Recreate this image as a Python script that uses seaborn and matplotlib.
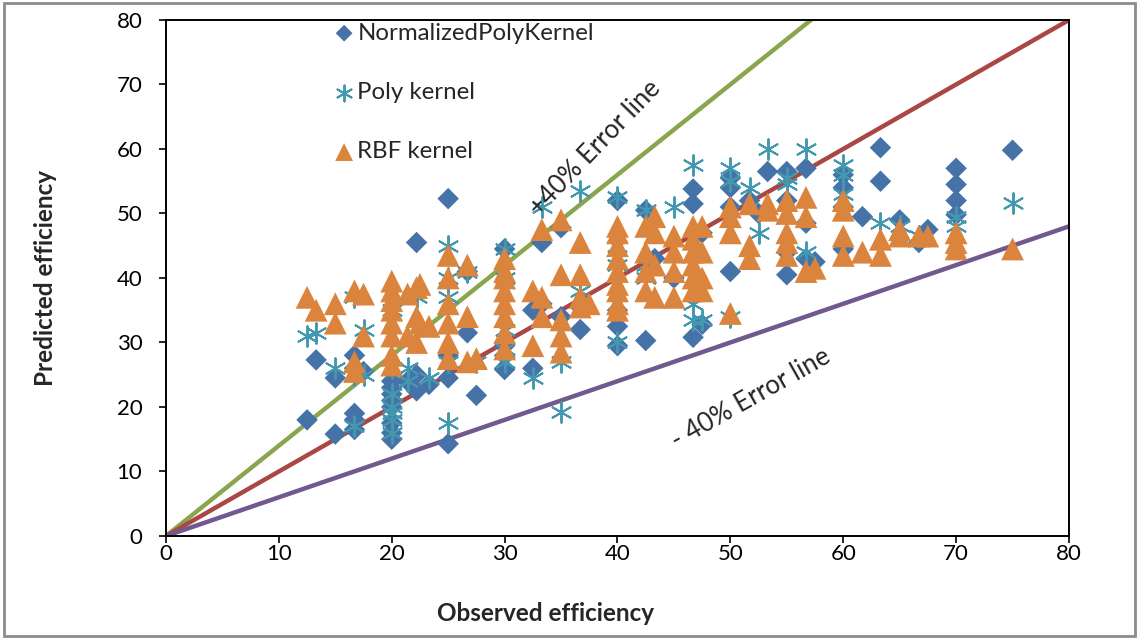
import matplotlib
matplotlib.use("Agg")
import matplotlib.pyplot as plt
import seaborn as sns
import pandas as pd
from matplotlib.patches import Rectangle

# ---- data ----
npk_x = [12.5, 13.3, 15, 15, 16.7, 16.7, 16.7, 16.7, 16.7, 17.5, 20, 20, 20, 20, 20, 20, 20, 20,
         21.4, 22.2, 22.2, 22.2, 23.3, 25, 25, 25, 25, 26.7, 26.7, 27.5, 30, 30, 30, 30, 30, 30,
         32.5, 32.5, 33.3, 33.3, 35, 35, 36.7, 36.7, 40, 40, 40, 40, 42.5, 42.5, 43.3, 45,
         46.7, 46.7, 46.7, 47.5, 47.5, 50, 50, 50, 50, 51.7, 52.5, 53.3, 55, 55, 55, 55,
         56.7, 56.7, 56.7, 57.5, 60, 60, 60, 60, 61.7, 63.3, 63.3, 65, 66.7, 67.5, 70, 70, 70, 70, 75]
npk_y = [18, 27.3, 15.8, 24.5, 16.5, 18, 19, 26, 28, 25.5, 15, 16, 17.5, 20, 21, 22, 23, 24,
         24, 45.5, 22.5, 25, 23.5, 52.3, 14.3, 24.5, 28, 31.5, 41, 21.8, 44.5, 30, 28, 26, 29.5, 25.8,
         26, 35, 45.5, 36, 47.8, 34, 32, 35.5, 52, 29.5, 32.5, 35, 50.5, 30.3, 43, 40,
         53.8, 51.5, 30.8, 32.8, 47, 55.5, 54, 51, 41, 52, 50, 56.5, 56.5, 52, 40.5, 44,
         57, 48.5, 43, 42.5, 56, 54, 51, 44.5, 49.5, 60.2, 55, 49, 45.5, 47.5, 57, 54.5, 52, 49.8, 59.8]

poly_x = [12.5, 13.3, 15, 16.7, 16.7, 16.7, 17.5, 17.5, 20, 20, 20, 20, 20, 20, 20, 21.4, 21.4,
          22.2, 23.3, 25, 25, 25, 25, 25, 26.7, 27.5, 30, 30, 30, 30, 30, 32.5, 33.3, 35, 35,
          36.7, 36.7, 40, 40, 40, 40, 42.5, 42.5, 42.5, 45, 46.7, 46.7, 46.7, 47.5, 50, 50, 50,
          51.7, 52.5, 53.3, 55, 55, 56.7, 56.7, 60, 60, 60, 63.3, 65, 66.7, 70, 70, 75]
poly_y = [31, 31.5, 26, 17, 25, 37, 32, 25, 16, 18, 19, 20, 22, 26, 35, 26, 24,
          37, 24.5, 45, 17.5, 40, 37, 27, 41, 27, 44.5, 40, 32, 29, 27, 24.5, 51, 19.2, 27,
          38, 53.5, 52.5, 30, 45, 42, 50.5, 42, 40, 51, 57.5, 33.5, 36, 33.5, 57, 55, 34,
          54, 47, 60, 55.5, 54.5, 60, 44, 57.5, 56, 53, 48.5, 48, 46.5, 49.5, 48, 51.7]

rbf_x = [12.5, 13.3, 15, 15, 16.7, 16.7, 16.7, 17.5, 17.5, 20, 20, 20, 20, 20, 20, 20, 20,
         21.4, 21.4, 22.2, 22.2, 22.2, 22.5, 22.5, 23.3, 25, 25, 25, 25, 25, 25, 26.7, 26.7, 26.7,
         27.5, 30, 30, 30, 30, 30, 30, 30, 30, 32.5, 32.5, 33.3, 33.3, 33.3, 35, 35, 35, 35, 35,
         36.7, 36.7, 36.7, 36.7, 37.5, 40, 40, 40, 40, 40, 40, 40, 40, 40, 42.5, 42.5, 42.5, 42.5,
         43.3, 43.3, 43.3, 43.3, 45, 45, 45, 45, 46.7, 46.7, 46.7, 46.7, 46.7, 46.7,
         47.5, 47.5, 47.5, 47.5, 50, 50, 50, 50, 51.7, 51.7, 51.7, 53.3, 53.3,
         55, 55, 55, 55, 55, 56.7, 56.7, 56.7, 57.5, 60, 60, 60, 60, 61.7, 63.3, 63.3,
         65, 65, 66.7, 67.5, 70, 70, 70, 75]
rbf_y = [37, 35, 33, 36, 25.5, 27, 38, 37.5, 31, 26.5, 28, 31, 33, 35, 36.5, 38, 39.5,
         37.5, 31, 38.5, 34, 30, 39, 33, 32.5, 43.5, 40, 36, 33, 30, 27.5, 42, 34, 27,
         27.5, 43, 41, 40, 38, 36, 34, 31.5, 29, 38, 29.5, 47.5, 37, 34, 49, 40.5, 33.5, 31, 28.5,
         45.5, 40.5, 37, 35.5, 36, 48, 47, 45, 43, 41, 39, 38, 36, 35, 48, 44, 41, 38,
         49.5, 47, 42, 37, 46.5, 44, 41, 37, 48, 46, 44, 42, 40, 38,
         48, 44, 40, 38, 51, 49.5, 47, 34.5, 51.5, 45, 43, 51.5, 50.5,
         52, 50, 47, 45.5, 43.5, 52.5, 49.5, 41, 41.5, 52, 50.5, 46.5, 43.5, 44, 46, 43.5,
         47.5, 46.5, 46.5, 46.5, 47, 45.5, 44.5, 44.5]

line_x = [0, 80]
line_factors = {"plus40": 1.4, "exact": 1.0, "minus40": 0.6}

series_labels = ["NormalizedPolyKernel", "Poly kernel", "RBF kernel"]
x_ticks = [0, 10, 20, 30, 40, 50, 60, 70, 80]
y_ticks = [0, 10, 20, 30, 40, 50, 60, 70, 80]

# ---- style ----
sns.set_theme(style="white")
plt.rcParams["font.family"] = ["Lato", "DejaVu Sans"]

fig = plt.figure(figsize=(11.4, 6.38), dpi=100)
ax = fig.add_axes([0.1456, 0.1599, 0.7921, 0.8088])

c_blue = "#4572A7"
c_teal = "#4198AF"
c_orange = "#DB843D"
c_green = "#89A54E"
c_red = "#AA4643"
c_purple = "#71588F"

# error lines
for key, col in [("plus40", c_green), ("exact", c_red), ("minus40", c_purple)]:
    f = line_factors[key]
    ldf = pd.DataFrame({"x": line_x, "y": [v * f for v in line_x]})
    sns.lineplot(data=ldf, x="x", y="y", ax=ax, color=col, linewidth=3.2, zorder=1,
                 legend=False)

df_npk = pd.DataFrame({"x": npk_x, "y": npk_y})
df_poly = pd.DataFrame({"x": poly_x, "y": poly_y})
df_rbf = pd.DataFrame({"x": rbf_x, "y": rbf_y})

sns.scatterplot(data=df_npk, x="x", y="y", ax=ax, marker="D", s=120, color=c_blue,
                edgecolor="none", linewidth=0, label=series_labels[0], zorder=3)
sns.scatterplot(data=df_poly, x="x", y="y", ax=ax, marker=(6, 2, 0), s=220, color=c_teal,
                edgecolor=c_teal, linewidth=1.4, label=series_labels[1], zorder=4)
sns.scatterplot(data=df_rbf, x="x", y="y", ax=ax, marker="^", s=270, color=c_orange,
                edgecolor="none", linewidth=0, label=series_labels[2], zorder=5)

ax.set_xlim(0, 80)
ax.set_ylim(0, 80)
ax.set_xticks(x_ticks)
ax.set_yticks(y_ticks)
ax.tick_params(axis="both", labelsize=16, direction="out", length=5, width=1.2,
               color="black", labelcolor="black", bottom=True, left=True)
ax.tick_params(axis="x", pad=1)
ax.tick_params(axis="y", pad=12)
for sp in ax.spines.values():
    sp.set_color("black")
    sp.set_linewidth(1.4)

ax.set_xlabel("Observed efficiency", fontsize=17.5, fontweight="bold")
ax.xaxis.set_label_coords(0.42, -0.128)
ax.set_ylabel("Predicted efficiency", fontsize=17.5, fontweight="bold", labelpad=43)

leg = ax.legend(loc="upper left", bbox_to_anchor=(0.16, 1.037), frameon=False,
                fontsize=17.3, labelspacing=1.6, handletextpad=0.05, markerscale=0.78,
                handlelength=1.0)

ax.text(38.0, 60.2, "+40% Error line", fontsize=18.5, rotation=46,
        ha="center", va="center", zorder=6)
ax.text(51.8, 21.3, "- 40% Error line", fontsize=18.5, rotation=29.5,
        ha="center", va="center", zorder=6)

# outer chart border
fig.patches.append(Rectangle((4 / 1140, 2 / 638), 1131 / 1140, 633 / 638,
                             transform=fig.transFigure, fill=False,
                             edgecolor="#8c8c8c", linewidth=2))

fig.savefig("out.png", dpi=100)
